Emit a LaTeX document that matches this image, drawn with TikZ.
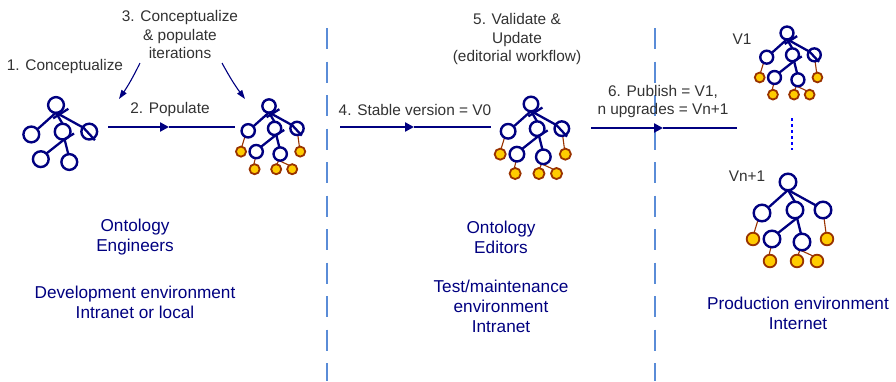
\documentclass[tikz,border=0pt]{standalone}
\usepackage{fontspec}
\setmainfont{Liberation Sans}
\usetikzlibrary{arrows.meta}
\definecolor{navy}{RGB}{0,0,128}
\definecolor{txtgray}{RGB}{50,50,50}
\definecolor{instfill}{RGB}{255,204,0}
\definecolor{instline}{RGB}{153,51,0}
\definecolor{sepblue}{RGB}{90,140,215}
\definecolor{dotblue}{RGB}{0,0,255}
\tikzset{
  treeline/.style={draw=navy, line width=2.3pt},
  treecirc/.style={draw=navy, line width=2.4pt},
  instlink/.style={draw=instline, line width=1.1pt},
  instnode/.style={draw=instline, fill=instfill, line width=1.8pt},
  treebase/.pic={
    \draw[treeline] (0,8) -- (-19,25);
    \draw[treeline] (0,8) -- (7,20);
    \draw[treeline] (0,8) -- (29,24);
    \draw[treeline] (9,36) -- (-10,51);
    \draw[treeline] (9,36) -- (13,52);
    \draw[treecirc] (0,0) circle (8.3pt);
    \draw[treecirc] (-26,31) circle (8.3pt);
    \draw[treecirc] (7,28) circle (8.3pt);
    \draw[treecirc] (35,28) circle (8.3pt);
    \draw[treecirc] (-16,57) circle (8.3pt);
    \draw[treecirc] (14,60) circle (8.3pt);
  },
  treecross/.pic={
    \draw[treeline] (-3,14) -- (13,4);
    \draw[treeline] (29,24) -- (41,37);
    \draw[treeline] (9,36) -- (19,30);
  },
  treeinst/.pic={
    \draw[instlink] (-30,38) -- (-34,51);
    \draw[instlink] (36,36) -- (38,51);
    \draw[instlink] (-17,65) -- (-19,73);
    \draw[instlink] (12,68) -- (10,73);
    \draw[instlink] (12,68) -- (25,74);
    \draw[instnode] (-35,57) circle (6.3pt);
    \draw[instnode] (39,57) circle (6.3pt);
    \draw[instnode] (-18,79) circle (6.3pt);
    \draw[instnode] (9,79) circle (6.3pt);
    \draw[instnode] (29,79) circle (6.3pt);
  },
  graylbl/.style={text=txtgray, font=\fontsize{15.4}{18.5}\selectfont, align=center, inner sep=0pt},
  bluelbl/.style={text=navy, font=\fontsize{17.2}{20}\selectfont, align=center, inner sep=0pt},
  sepline/.style={draw=sepblue, line width=1.3pt, dash pattern=on 21pt off 12.5pt},
  thickseg/.style={draw=navy, line width=2.6pt, -{Triangle[length=9pt,width=9pt]}},
  thinseg/.style={draw=navy, line width=1.2pt},
  curvarrow/.style={draw=navy, line width=1.1pt, -{Triangle[length=9pt,width=6pt]}},
  dotline/.style={draw=dotblue, line width=2.5pt, dash pattern=on 3pt off 3pt}
}
\begin{document}
\begin{tikzpicture}[x=1pt,y=-1pt]
\path[use as bounding box] (0,0) rectangle (896,381);

% separators
\coordinate (s1t) at (327,28);
\coordinate (s1b) at (327,381);
\coordinate (s2t) at (655,28);
\coordinate (s2b) at (655,381);
\draw[sepline] (s1t) -- (s1b);
\draw[sepline] (s2t) -- (s2b);

% trees
\pic[scale=0.95] at (56,105) {treebase};
\pic[scale=0.95] at (56,105) {treecross};

\pic[scale=0.8] at (269,106) {treeinst};
\pic[scale=0.8] at (269,106) {treebase};
\pic[scale=0.8] at (269,106) {treecross};

\pic[scale=0.88] at (531,104) {treeinst};
\pic[scale=0.88] at (531,104) {treebase};
\pic[scale=0.88] at (531,104) {treecross};

\pic[scale=0.78] at (787,33) {treeinst};
\pic[scale=0.78] at (787,33) {treebase};
\pic[scale=0.78] at (787,33) {treecross};

\pic at (788,182) {treeinst};
\pic at (788,182) {treebase};

% dotted continuation
\coordinate (dt) at (792,118);
\coordinate (db) at (792,150);
\draw[dotline] (dt) -- (db);

% labels
\node[graylbl] (l1) at (65,67) {1. Conceptualize};
\node[graylbl] (l3) at (180,34.5) {3. Conceptualize\\\& populate\\iterations};
\node[graylbl] (l2) at (170,110) {2. Populate};
\node[graylbl] (l4) at (415,110) {4. Stable version = V0};
\node[graylbl] (l5) at (517,39.5) {5. Validate \&\\Update\\(editorial workflow)};
\node[graylbl] (l6) at (663,101.5) {6. Publish = V1,\\n upgrades = Vn+1};
\node[graylbl] (lv1) at (742,39) {V1};
\node[graylbl] (lvn) at (747,176) {Vn+1};

\node[bluelbl] (b1) at (135,237.5) {Ontology\\Engineers};
\node[bluelbl] (b2) at (135,302.5) {Development environment\\Intranet or local};
\node[bluelbl] (b3) at (501,237.5) {Ontology\\Editors};
\node[bluelbl] (b4) at (501,306) {Test/maintenance\\environment\\Intranet};
\node[bluelbl] (b5) at (798,313) {Production environment\\Internet};

% arrows
\coordinate (p1s) at (108,127);
\coordinate (p1m) at (169,127);
\coordinate (p1e) at (235,127);
\draw[thickseg] (p1s) -- (p1m);
\draw[thinseg] (p1m) -- (p1e);

\coordinate (p2s) at (340,127);
\coordinate (p2m) at (414,127);
\coordinate (p2e) at (491,127);
\draw[thickseg] (p2s) -- (p2m);
\draw[thinseg] (p2m) -- (p2e);

\coordinate (p3s) at (591,128);
\coordinate (p3m) at (663,128);
\coordinate (p3e) at (737,128);
\draw[thickseg] (p3s) -- (p3m);
\draw[thinseg] (p3m) -- (p3e);

\coordinate (c1s) at (140,63);
\coordinate (c1e) at (119,99);
\coordinate (c2s) at (222,63);
\coordinate (c2e) at (245,99);
\draw[curvarrow] (c1s) to[bend left=4] (c1e);
\draw[curvarrow] (c2s) to[bend right=4] (c2e);
\end{tikzpicture}
\end{document}
